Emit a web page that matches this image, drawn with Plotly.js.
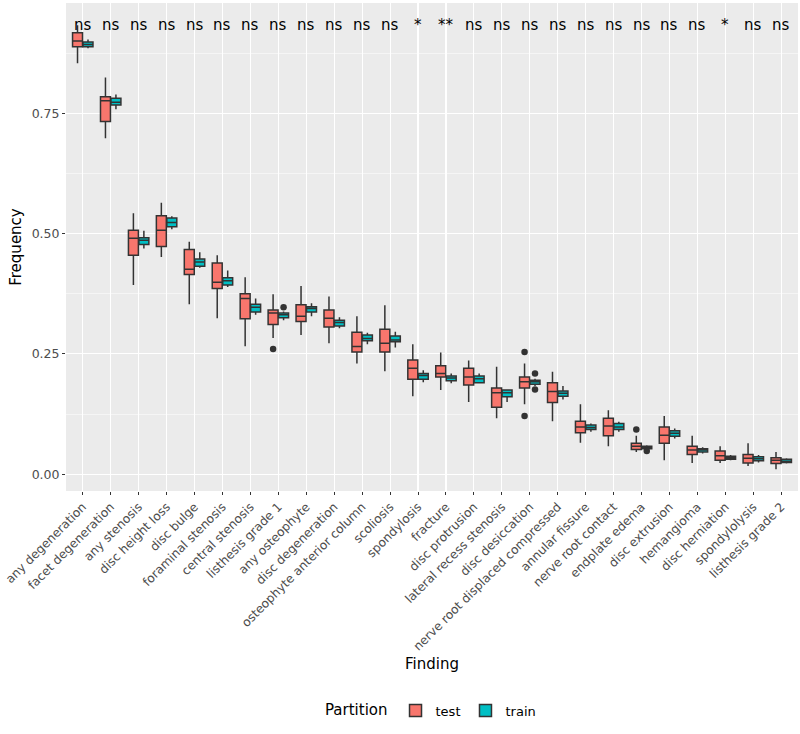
<!DOCTYPE html>
<html>
<head>
<meta charset="utf-8">
<script src="https://cdn.plot.ly/plotly-3.0.1.min.js"></script>
<style>html,body{margin:0;padding:0;background:#fff;}#chart{width:800px;height:734px;}</style>
</head>
<body>
<div id="chart"></div>
<script>
const categories = ["any degeneration","facet degeneration","any stenosis","disc height loss","disc bulge","foraminal stenosis","central stenosis","listhesis grade 1","any osteophyte","disc degeneration","osteophyte anterior column","scoliosis","spondylosis","fracture","disc protrusion","lateral recess stenosis","disc desiccation","nerve root displaced compressed","annular fissure","nerve root contact","endplate edema","disc extrusion","hemangioma","disc herniation","spondylolysis","listhesis grade 2"];

const significance = ["ns","ns","ns","ns","ns","ns","ns","ns","ns","ns","ns","ns","*","**","ns","ns","ns","ns","ns","ns","ns","ns","ns","*","ns","ns"];

// test partition
const testLower  = [0.854,0.698,0.393,0.451,0.353,0.324,0.266,0.283,0.289,0.272,0.230,0.214,0.162,0.175,0.150,0.116,0.145,0.110,0.065,0.058,0.046,0.029,0.023,0.023,0.017,0.010];
const testQ1     = [0.888,0.733,0.455,0.473,0.415,0.386,0.323,0.311,0.317,0.306,0.254,0.254,0.197,0.202,0.185,0.139,0.179,0.149,0.086,0.080,0.051,0.064,0.041,0.029,0.023,0.022];
const testMedian = [0.900,0.776,0.490,0.507,0.426,0.399,0.365,0.335,0.328,0.324,0.265,0.272,0.220,0.209,0.202,0.169,0.192,0.172,0.098,0.100,0.058,0.081,0.050,0.038,0.033,0.029];
const testQ3     = [0.917,0.784,0.507,0.537,0.467,0.439,0.375,0.341,0.352,0.341,0.295,0.301,0.237,0.225,0.220,0.179,0.202,0.190,0.110,0.116,0.064,0.098,0.058,0.048,0.041,0.034];
const testUpper  = [0.933,0.824,0.542,0.564,0.483,0.455,0.409,0.374,0.391,0.369,0.328,0.351,0.270,0.253,0.236,0.223,0.230,0.213,0.145,0.133,0.080,0.121,0.080,0.058,0.064,0.046];
const testOutliers = [[],[],[],[],[],[],[],[0.260],[],[],[],[],[],[],[],[],[0.254,0.121],[],[],[],[0.093],[],[],[],[],[]];

// train partition
const trainLower  = [0.885,0.758,0.469,0.509,0.429,0.389,0.331,0.320,0.328,0.303,0.270,0.263,0.191,0.189,0.189,0.150,0.183,0.155,0.088,0.088,0.050,0.074,0.043,0.029,0.024,0.022];
const trainQ1     = [0.888,0.767,0.477,0.514,0.432,0.393,0.337,0.325,0.337,0.308,0.277,0.275,0.197,0.194,0.190,0.161,0.187,0.162,0.093,0.093,0.053,0.079,0.046,0.031,0.028,0.024];
const trainMedian = [0.893,0.773,0.486,0.523,0.441,0.402,0.347,0.331,0.344,0.315,0.282,0.279,0.205,0.200,0.198,0.169,0.192,0.168,0.097,0.098,0.056,0.085,0.050,0.034,0.032,0.027];
const trainQ3     = [0.898,0.781,0.491,0.532,0.447,0.408,0.353,0.335,0.348,0.320,0.289,0.287,0.209,0.204,0.204,0.175,0.195,0.173,0.102,0.105,0.058,0.090,0.053,0.037,0.036,0.031];
const trainUpper  = [0.903,0.789,0.506,0.536,0.461,0.423,0.365,0.338,0.355,0.326,0.294,0.296,0.216,0.209,0.209,0.176,0.198,0.183,0.105,0.109,0.060,0.095,0.056,0.040,0.040,0.033];
const trainOutliers = [[],[],[],[],[],[],[],[0.347],[],[],[],[],[],[],[],[],[0.209,0.176],[],[],[],[0.048],[],[],[],[],[]];

const sigY = 0.933;
const boxGap = 0.25, boxGroupGap = 0.05;
const dodge = (1 - boxGap) / 4; // centre offset of each of the two grouped boxes

function boxTrace(name, color, lower, q1, med, q3, upper) {
  return {
    type: 'box', name: name, x: categories, legendgroup: name,
    q1: q1, median: med, q3: q3, lowerfence: lower, upperfence: upper,
    boxpoints: false, whiskerwidth: 0,
    fillcolor: color, line: {color: '#333333', width: 1.5}
  };
}

function outlierTrace(name, outl, sign) {
  const xs = [], ys = [];
  outl.forEach((arr, i) => arr.forEach(v => { xs.push(i + sign * dodge); ys.push(v); }));
  return {
    type: 'scatter', mode: 'markers', x: xs, y: ys, xaxis: 'x2', yaxis: 'y',
    legendgroup: name, showlegend: false, hoverinfo: 'skip',
    marker: {color: '#333333', size: 6.5}
  };
}

const data = [
  boxTrace('test', '#F8766D', testLower, testQ1, testMedian, testQ3, testUpper),
  boxTrace('train', '#00BFC4', trainLower, trainQ1, trainMedian, trainQ3, trainUpper),
  outlierTrace('test', testOutliers, -1),
  outlierTrace('train', trainOutliers, 1)
];

const annotations = categories.map((c, i) => ({
  x: c, y: sigY, xref: 'x', yref: 'y', text: significance[i], showarrow: false,
  font: {family: 'DejaVu Sans', size: 15, color: '#000'}
}));

const xRange = [-0.6, categories.length - 0.4];

const layout = {
  width: 800, height: 734,
  margin: {l: 66, r: 2, t: 3, b: 243},
  paper_bgcolor: '#ffffff', plot_bgcolor: '#EBEBEB',
  font: {family: 'DejaVu Sans', color: '#4D4D4D'},
  boxmode: 'group', boxgap: boxGap, boxgroupgap: boxGroupGap,
  showlegend: true,
  xaxis: {
    type: 'category', categoryorder: 'array', categoryarray: categories,
    range: xRange, tickangle: -45,
    tickfont: {size: 12.2, color: '#4D4D4D'},
    ticks: 'outside', ticklen: 3, tickcolor: '#333333', tickwidth: 1,
    showgrid: true, gridcolor: '#ffffff', gridwidth: 1.1,
    zeroline: false, showline: false,
    title: {text: 'Finding', font: {size: 15, color: '#000'}, standoff: 6}
  },
  xaxis2: {
    overlaying: 'x', type: 'linear', range: xRange, visible: false,
    showgrid: false, zeroline: false
  },
  yaxis: {
    range: [-0.035, 0.979], tickvals: [0, 0.25, 0.5, 0.75], ticktext: ['0.00','0.25','0.50','0.75'],
    tickfont: {size: 12.5, color: '#4D4D4D'},
    ticks: 'outside', ticklen: 3, tickcolor: '#333333', tickwidth: 1,
    showgrid: true, gridcolor: '#ffffff', gridwidth: 1.1,
    minor: {dtick: 0.125, tick0: 0, showgrid: true, gridcolor: '#ffffff', gridwidth: 0.5, ticklen: 0},
    zeroline: false, showline: false,
    title: {text: 'Frequency', font: {size: 15, color: '#000'}, standoff: 6}
  },
  legend: {
    orientation: 'h', x: 0.5, xanchor: 'center', y: -0.45, yanchor: 'middle',
    title: {text: 'Partition', side: 'left', font: {size: 15, color: '#000'}},
    font: {size: 13, color: '#000'}
  },
  annotations: annotations
};

Plotly.newPlot('chart', data, layout, {displayModeBar: false, staticPlot: true});
</script>
</body>
</html>
